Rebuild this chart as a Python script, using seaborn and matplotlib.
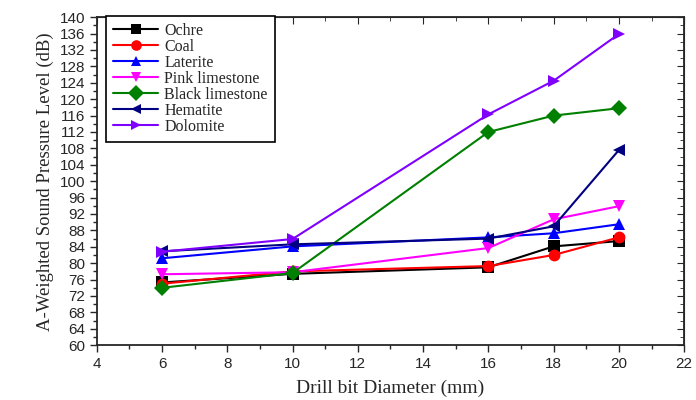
import numpy as np
import pandas as pd
import matplotlib
matplotlib.use("Agg")
import matplotlib.pyplot as plt
import seaborn as sns
from matplotlib.ticker import MultipleLocator

# Data
diameter = [6, 10, 16, 18, 20]
ochre = [75.3, 77.4, 79.0, 84.1, 85.4]
coal = [75.0, 78.0, 79.3, 82.0, 86.3]
laterite = [81.2, 84.1, 86.3, 87.3, 89.5]
pink_limestone = [77.3, 77.8, 83.7, 90.7, 93.9]
black_limestone = [74.0, 77.6, 112.0, 116.0, 117.8]
hematite = [82.9, 84.6, 86.0, 89.0, 107.6]
dolomite = [82.8, 85.9, 116.3, 124.5, 135.9]

series = {
    "Ochre": ochre,
    "Coal": coal,
    "Laterite": laterite,
    "Pink limestone": pink_limestone,
    "Black limestone": black_limestone,
    "Hematite": hematite,
    "Dolomite": dolomite,
}
colors = ["black", "red", "blue", "magenta", "green", "navy", "#8000ff"]
markers = ["s", "o", "^", "v", "D", "<", ">"]

df = pd.DataFrame(
    [(d, name, v) for name, vals in series.items() for d, v in zip(diameter, vals)],
    columns=["diameter", "rock", "spl"],
)

sns.set_style("ticks")
plt.rcParams["font.family"] = ["Liberation Sans", "DejaVu Sans"]

fig, ax = plt.subplots(figsize=(6.96, 4.0), dpi=100)
fig.subplots_adjust(left=0.139, right=0.983, top=0.957, bottom=0.137)

sns.lineplot(
    data=df, x="diameter", y="spl", hue="rock", style="rock",
    palette=colors, markers=markers, dashes=False, markersize=8.5,
    linewidth=1.5, markeredgewidth=0, ax=ax,
)

ax.set_xlim(4, 22)
ax.set_ylim(60, 140)
ax.xaxis.set_major_locator(MultipleLocator(2))
ax.xaxis.set_minor_locator(MultipleLocator(1))
ax.yaxis.set_major_locator(MultipleLocator(4))
ax.yaxis.set_minor_locator(MultipleLocator(2))
ax.tick_params(which="both", direction="out", labelsize=11, width=1)
ax.tick_params(which="major", length=5)
ax.tick_params(which="minor", length=3)
for s in ax.spines.values():
    s.set_linewidth(1.3)
    s.set_visible(True)

# mirrored inward ticks on top and right
top = ax.secondary_xaxis("top")
top.xaxis.set_major_locator(MultipleLocator(2))
top.xaxis.set_minor_locator(MultipleLocator(1))
top.tick_params(which="both", direction="in", labeltop=False)
top.tick_params(which="major", length=5)
top.tick_params(which="minor", length=3)
right = ax.secondary_yaxis("right")
right.yaxis.set_major_locator(MultipleLocator(4))
right.yaxis.set_minor_locator(MultipleLocator(2))
right.tick_params(which="both", direction="in", labelright=False)
right.tick_params(which="major", length=5)
right.tick_params(which="minor", length=3)

ax.set_xlabel("Drill bit Diameter (mm)", family="Liberation Serif", fontsize=14, labelpad=6)
ax.set_ylabel("A-Weighted Sound Pressure Level (dB)", family="Liberation Serif",
              fontsize=13.5, labelpad=4)

leg = ax.legend(loc="upper left", bbox_to_anchor=(0.016, 1.005), borderaxespad=0,
                frameon=True, fancybox=False, edgecolor="black", framealpha=1,
                prop={"family": "Liberation Serif", "size": 11.5},
                handlelength=2.8, handletextpad=0.4, labelspacing=0.0,
                borderpad=0.45, markerscale=0.9)
leg.get_frame().set_linewidth(1.2)

fig.savefig("out.png", dpi=100)
